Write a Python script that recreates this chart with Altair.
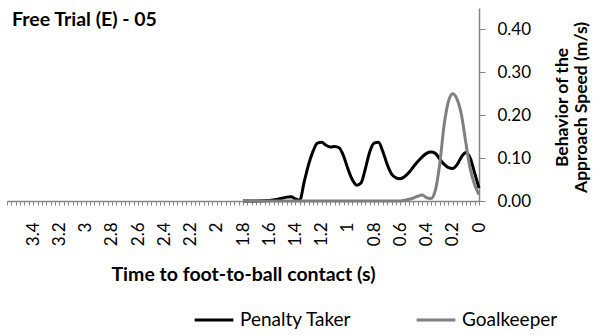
import altair as alt
import pandas as pd

# Time to foot-to-ball contact (s) and approach speed (m/s)
taker_time = [1.800, 1.700, 1.600, 1.533, 1.467, 1.433, 1.400, 1.367, 1.333, 1.300, 1.267,
              1.233, 1.200, 1.167, 1.133, 1.100, 1.067, 1.033, 1.000, 0.967, 0.933, 0.900,
              0.867, 0.833, 0.800, 0.767, 0.733, 0.700, 0.667, 0.633, 0.600, 0.567, 0.533,
              0.500, 0.467, 0.433, 0.400, 0.367, 0.333, 0.300, 0.267, 0.233, 0.200, 0.167,
              0.133, 0.100, 0.067, 0.033, 0.000]
taker_speed = [0.000, 0.000, 0.001, 0.004, 0.009, 0.010, 0.005, 0.002, 0.045, 0.085, 0.115,
               0.135, 0.137, 0.130, 0.126, 0.127, 0.124, 0.105, 0.075, 0.050, 0.037, 0.042,
               0.075, 0.115, 0.135, 0.137, 0.115, 0.085, 0.063, 0.054, 0.052, 0.057, 0.067,
               0.080, 0.092, 0.103, 0.111, 0.114, 0.111, 0.098, 0.086, 0.078, 0.076, 0.085,
               0.103, 0.113, 0.100, 0.065, 0.030]

keeper_time = [1.800, 1.500, 1.200, 0.900, 0.700, 0.600, 0.567, 0.533, 0.500, 0.467, 0.433,
               0.400, 0.367, 0.333, 0.300, 0.267, 0.233, 0.200, 0.167, 0.133, 0.100, 0.067,
               0.033, 0.000]
keeper_speed = [0.000, 0.000, 0.000, 0.000, 0.000, 0.000, 0.002, 0.004, 0.007, 0.011, 0.014,
                0.008, 0.006, 0.025, 0.085, 0.175, 0.232, 0.250, 0.237, 0.200, 0.135, 0.075,
                0.038, 0.015]

series_names = ["Penalty Taker", "Goalkeeper"]
series_colors = ["#000000", "#808080"]
y_ticks = [0.0, 0.1, 0.2, 0.3, 0.4]
x_ticks = [round(i / 30, 6) for i in range(0, 109)]

FONT = "Lato"

taker = pd.DataFrame({"t": taker_time, "v": taker_speed, "s": series_names[0]})
keeper = pd.DataFrame({"t": keeper_time, "v": keeper_speed, "s": series_names[1]})

x_enc = alt.X(
    "t:Q",
    scale=alt.Scale(domain=[0, 3.6], reverse=True, nice=False, zero=False),
    axis=alt.Axis(
        values=x_ticks,
        labelExpr="round(datum.value*30) % 6 == 0 && datum.value < 3.5 ? format(round(datum.value*30)/30, '.1~f') : ''",
        labelAngle=270,
        labelAlign="right",
        labelBaseline="middle",
        labelPadding=17,
        labelFontSize=17,
        labelOverlap=False,
        tickSize=4,
        grid=False,
        title="Time to foot-to-ball contact (s)",
        titleFontSize=19.5,
        titleFontWeight="bold",
        titleY=79,
        titleBaseline="alphabetic",
    ),
)
y_enc = alt.Y(
    "v:Q",
    scale=alt.Scale(domain=[0, 0.45], nice=False),
    axis=alt.Axis(
        orient="right",
        values=y_ticks,
        format=".2f",
        tickSize=6,
        labelPadding=12,
        labelFontSize=17,
        grid=False,
        title=["Behavior of the", "Approach Speed (m/s)"],
        titleAngle=270,
        titleFontSize=17.5,
        titleFontWeight="bold",
        titleX=92,
        titleY=99,
        titleAlign="center",
        titleBaseline="bottom",
    ),
)
color_enc = alt.Color(
    "s:N",
    scale=alt.Scale(domain=series_names, range=series_colors),
    legend=alt.Legend(
        title=None,
        orient="none",
        legendX=186,
        legendY=291,
        direction="horizontal",
        symbolType="stroke",
        symbolSize=1500,
        symbolStrokeWidth=3,
        labelFontSize=19,
        labelOffset=5,
        columnPadding=58,
    ),
)

base_taker = alt.Chart(taker).mark_line(strokeWidth=3, interpolate="monotone").encode(
    x=x_enc, y=y_enc, color=color_enc
)
base_keeper = alt.Chart(keeper).mark_line(strokeWidth=3, interpolate="monotone").encode(
    x=x_enc, y=y_enc, color=color_enc
)

chart = (
    alt.layer(base_taker, base_keeper)
    .properties(
        width=472,
        height=193,
        autosize=alt.AutoSizeParams(type="none"),
        padding={"left": 7, "top": 8, "right": 120, "bottom": 134},
        title=alt.TitleParams(
            "Free Trial (E) - 05",
            anchor="start",
            frame="group",
            orient="top",
            offset=-17,
            dy=20,
            baseline="alphabetic",
            dx=5,
            fontSize=19.5,
            fontWeight="bold",
            font=FONT,
            color="#000000",
        ),
    )
    .configure(font=FONT, background="#ffffff")
    .configure_view(stroke=None)
    .configure_axis(
        domainColor="#868686",
        domainWidth=1.5,
        tickColor="#868686",
        tickWidth=1,
        labelColor="#000000",
        titleColor="#000000",
        labelFont=FONT,
        titleFont=FONT,
    )
    .configure_legend(labelFont=FONT, labelColor="#000000")
)

chart.save("out.html", embed_options={"renderer": "svg", "actions": False})
